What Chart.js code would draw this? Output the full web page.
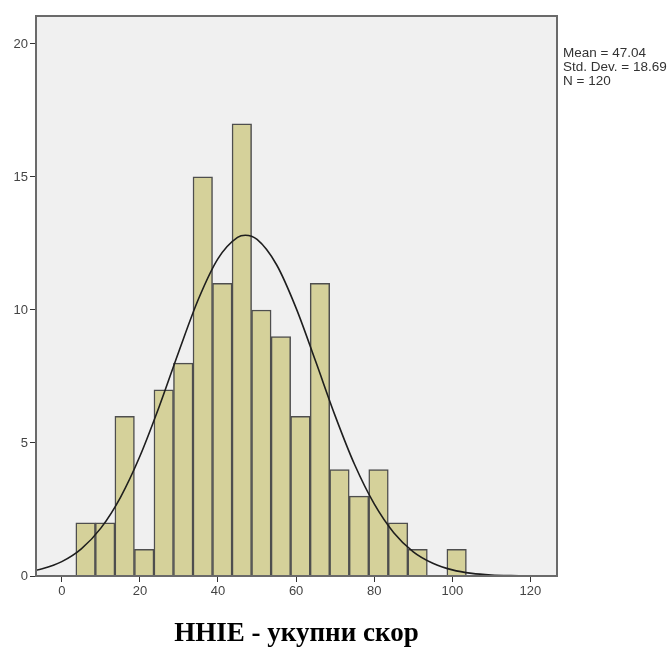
<!DOCTYPE html>
<html>
<head>
<meta charset="utf-8">
<script src="https://cdn.jsdelivr.net/npm/chart.js@4/dist/chart.umd.min.js"></script>
<style>
  html, body { margin: 0; padding: 0; background: #fff; }
  canvas { display: block; }
</style>
</head>
<body>
<canvas id="hist" width="671" height="648"></canvas>
<script>
// histogram bins (centres, width 5) and counts
const binCenters = [6.1, 11.1, 16.1, 21.1, 26.1, 31.1, 36.1, 41.1, 46.1, 51.1,
                    56.1, 61.1, 66.1, 71.1, 76.1, 81.1, 86.1, 91.1, 96.1, 101.1];
const counts = [2, 2, 6, 1, 7, 8, 15, 11, 17, 10, 9, 6, 11, 4, 3, 4, 2, 1, 0, 1];

// normal curve
const curveX = [-10, -5, 0, 5, 10, 15, 20, 25, 30, 35, 40, 45, 47, 50, 55, 60,
                65, 70, 75, 80, 85, 90, 95, 100, 105, 110, 115, 120, 125, 130];
const curveY = [0.12, 0.27, 0.54, 1.02, 1.8, 2.95, 4.5, 6.39, 8.45, 10.41, 11.93, 12.73, 12.81, 12.65, 11.7, 10.07,
                8.07, 6.02, 4.18, 2.71, 1.63, 0.91, 0.48, 0.23, 0.1, 0.04, 0.015, 0.005, 0.002, 0.001];

const xTicks = [0, 20, 40, 60, 80, 100, 120];
const yTicks = [0, 5, 10, 15, 20];
const statsLines = ['Mean = 47.04', 'Std. Dev. = 18.69', 'N = 120'];
const xTitle = 'HHIE - укупни скор';

const plotFrame = {
  id: 'plotFrame',
  beforeDatasetsDraw(chart) {
    const { ctx, chartArea: a } = chart;
    ctx.save();
    ctx.fillStyle = '#f0f0f0';
    ctx.fillRect(a.left, a.top, a.right - a.left, a.bottom - a.top);
    ctx.restore();
  },
  afterDraw(chart) {
    const { ctx, chartArea: a } = chart;
    ctx.save();
    ctx.strokeStyle = '#6a6a6a';
    ctx.lineWidth = 2;
    ctx.strokeRect(a.left, a.top, a.right - a.left, a.bottom - a.top);
    ctx.fillStyle = '#333';
    ctx.font = '13.5px "Liberation Sans", Arial, sans-serif';
    ctx.textBaseline = 'middle';
    statsLines.forEach((t, i) => ctx.fillText(t, a.right + 6, 53 + i * 14));
    ctx.restore();
  }
};

const tickFont = { family: '"Liberation Sans", Arial, sans-serif', size: 13 };

new Chart(document.getElementById('hist'), {
  type: 'bar',
  data: {
    datasets: [
      {
        type: 'line',
        data: curveX.map((x, i) => ({ x, y: curveY[i] })),
        borderColor: '#1e1e1e',
        borderWidth: 1.6,
        pointRadius: 0,
        cubicInterpolationMode: 'monotone',
        order: 0
      },
      {
        type: 'bar',
        data: binCenters.map((x, i) => ({ x, y: counts[i] })),
        backgroundColor: '#d5d19a',
        borderColor: '#4e4e4e',
        borderWidth: 1.5,
        barPercentage: 1,
        categoryPercentage: 1,
        order: 1
      }
    ]
  },
  options: {
    responsive: false,
    animation: false,
    layout: { padding: { top: 16, right: 114, bottom: 0, left: 0 } },
    plugins: { legend: { display: false }, tooltip: { enabled: false } },
    scales: {
      x: {
        type: 'linear',
        min: -6.6,
        max: 126.8,
        offset: false,
        afterBuildTicks: (s) => { s.ticks = xTicks.map(v => ({ value: v })); },
        afterFit: (s) => { s.height = 72; },
        grid: { offset: false, drawOnChartArea: false, drawTicks: true, tickLength: 6, color: '#333' },
        border: { display: false },
        ticks: { font: tickFont, color: '#444', padding: 2, maxRotation: 0 },
        title: {
          display: true,
          text: xTitle,
          color: '#000',
          font: { family: '"Liberation Serif", "Times New Roman", serif', size: 27, weight: 'bold', lineHeight: 1.07 },
          padding: 0
        }
      },
      y: {
        min: 0,
        max: 21.05,
        afterBuildTicks: (s) => { s.ticks = yTicks.map(v => ({ value: v })); },
        afterFit: (s) => { s.width = 36; },
        grid: { drawOnChartArea: false, drawTicks: true, tickLength: 6, color: '#333' },
        border: { display: false },
        ticks: { font: tickFont, color: '#444', padding: 2 }
      }
    }
  },
  plugins: [plotFrame]
});
</script>
</body>
</html>
